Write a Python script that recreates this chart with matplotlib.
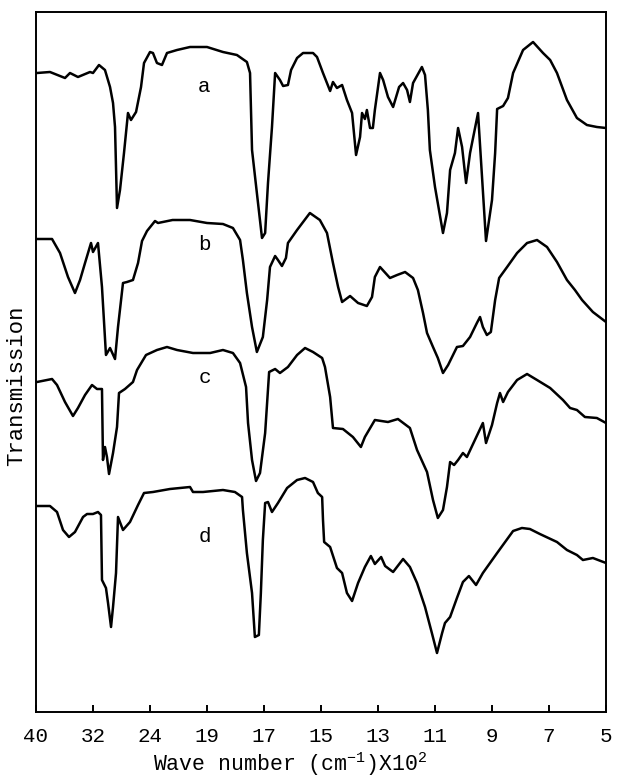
import numpy as np
import matplotlib
matplotlib.use("Agg")
import matplotlib.pyplot as plt

# Wavenumber axis (cm^-1) with a piecewise-linear, evenly spaced tick scale
tick_values = [4000, 3200, 2400, 1900, 1700, 1500, 1300, 1100, 900, 700, 500]
tick_labels = ["40", "32", "24", "19", "17", "15", "13", "11", "9", "7", "5"]

# Spectrum a
a_wn = [3986, 3804, 3593, 3523, 3411, 3242, 3200, 3116, 3032, 2961, 2919, 2891, 2863, 2821,
        2765, 2709, 2667, 2596, 2526, 2484, 2400, 2374, 2339, 2295, 2251, 2163, 2049, 1900,
        1844, 1795, 1760, 1749, 1742, 1725, 1707, 1696, 1686, 1672, 1661, 1644, 1633, 1616,
        1605, 1584, 1563, 1528, 1514, 1493, 1468, 1458, 1444, 1426, 1409, 1391, 1377, 1363,
        1356, 1346, 1339, 1328, 1318, 1311, 1293, 1282, 1265, 1247, 1226, 1212, 1198, 1188,
        1177, 1146, 1135, 1125, 1118, 1100, 1072, 1058, 1047, 1030, 1019, 1005, 991, 977,
        949, 935, 921, 900, 889, 882, 861, 844, 826, 791, 756, 721, 696, 672, 637, 602,
        567, 532, 500]
a_tr = [627, 628, 622, 627, 623, 628, 627, 635, 630, 613, 597, 573, 492, 510,
        547, 587, 580, 588, 613, 637, 648, 647, 637, 635, 647, 650, 653, 653,
        648, 645, 638, 627, 550, 507, 462, 467, 517, 573, 627, 620, 614, 615,
        630, 642, 647, 647, 643, 627, 609, 618, 612, 615, 600, 587, 545, 563,
        587, 581, 590, 572, 572, 590, 627, 620, 603, 593, 613, 617, 610, 598,
        617, 633, 625, 590, 550, 513, 467, 487, 530, 547, 572, 553, 517, 547,
        587, 523, 459, 500, 547, 591, 594, 602, 627, 650, 658, 647, 640, 627, 600, 582,
        575, 573, 572]

# Spectrum b
b_wn = [3986, 3775, 3663, 3551, 3453, 3382, 3312, 3228, 3200, 3130, 3074, 3018, 2961, 2891,
        2849, 2779, 2723, 2639, 2568, 2512, 2442, 2356, 2330, 2202, 2049, 1900, 1844, 1809,
        1784, 1774, 1760, 1742, 1725, 1704, 1689, 1679, 1661, 1651, 1637, 1623, 1616, 1584,
        1539, 1504, 1479, 1458, 1440, 1426, 1398, 1370, 1339, 1321, 1311, 1293, 1258, 1233,
        1205, 1177, 1160, 1142, 1128, 1107, 1090, 1072, 1054, 1023, 1002, 977, 953, 942,
        932, 918, 904, 889, 875, 847, 812, 777, 742, 707, 672, 637, 609, 584, 546, 500]
b_tr = [461, 461, 447, 423, 407, 420, 437, 457, 448, 457, 413, 345, 352, 341,
        373, 417, 418, 420, 437, 459, 469, 479, 477, 480, 480, 477, 476, 472,
        460, 440, 407, 373, 348, 363, 400, 433, 444, 440, 434, 442, 457, 470,
        487, 480, 467, 437, 413, 398, 404, 397, 394, 403, 423, 433, 422, 425,
        428, 422, 410, 387, 367, 353, 342, 327, 335, 353, 354, 363, 377, 383,
        373, 365, 368, 400, 422, 433, 447, 457, 460, 453, 438, 420, 410, 400, 388, 378]

# Spectrum c
c_wn = [3986, 3775, 3705, 3593, 3481, 3411, 3312, 3214, 3144, 3074, 3060, 3032, 3004, 2975,
        2919, 2863, 2835, 2751, 2639, 2582, 2456, 2339, 2251, 2163, 2023, 1889, 1844, 1809,
        1784, 1763, 1756, 1742, 1728, 1714, 1696, 1682, 1661, 1644, 1616, 1584, 1556, 1528,
        1496, 1486, 1468, 1458, 1423, 1388, 1360, 1346, 1311, 1265, 1230, 1188, 1163, 1128,
        1107, 1090, 1072, 1058, 1047, 1033, 1019, 1002, 988, 960, 932, 921, 900, 882,
        872, 861, 844, 812, 777, 742, 696, 651, 626, 602, 574, 532, 500]
c_tr = [318, 321, 315, 298, 284, 292, 305, 315, 311, 311, 240, 253, 243, 226,
        247, 273, 307, 311, 318, 330, 345, 350, 353, 350, 347, 347, 350, 347,
        337, 313, 277, 240, 219, 227, 267, 328, 331, 327, 333, 345, 352, 348,
        342, 333, 303, 272, 271, 263, 253, 263, 280, 278, 281, 272, 250, 228,
        200, 182, 190, 213, 238, 235, 240, 247, 243, 260, 277, 257, 275, 297,
        307, 298, 308, 320, 326, 320, 312, 300, 292, 290, 283, 282, 277]

# Spectrum d
d_wn = [3986, 3804, 3705, 3621, 3537, 3453, 3340, 3284, 3200, 3130, 3088, 3074, 3018, 2989,
        2947, 2919, 2877, 2849, 2779, 2681, 2568, 2484, 2374, 2225, 2049, 2023, 1935, 1844,
        1802, 1777, 1774, 1760, 1742, 1732, 1718, 1711, 1704, 1696, 1686, 1672, 1651, 1619,
        1584, 1556, 1528, 1511, 1496, 1493, 1489, 1468, 1444, 1426, 1409, 1391, 1370, 1346,
        1325, 1311, 1289, 1275, 1247, 1212, 1188, 1163, 1135, 1111, 1093, 1075, 1065, 1047,
        1023, 1002, 981, 956, 932, 882, 826, 795, 767, 732, 672, 637, 602, 581, 546, 500]
d_tr = [194, 194, 188, 170, 163, 168, 183, 186, 186, 188, 185, 120, 112, 97,
        73, 93, 127, 183, 170, 178, 195, 207, 208, 211, 213, 208, 208, 210,
        208, 203, 190, 147, 107, 63, 65, 107, 160, 197, 198, 188, 197, 212,
        220, 222, 218, 207, 203, 180, 158, 153, 132, 127, 107, 99, 117, 133,
        144, 136, 143, 134, 128, 141, 133, 117, 93, 67, 47, 67, 77, 83,
        102, 118, 124, 115, 127, 147, 169, 172, 171, 166, 158, 150, 145, 140, 142, 137]

spectra = [("a", a_wn, a_tr, 1926, 608),
           ("b", b_wn, b_tr, 1926, 450),
           ("c", c_wn, c_tr, 1920, 317),
           ("d", d_wn, d_tr, 1923, 158)]

mono = "Liberation Mono"
plt.rcParams["font.family"] = [mono, "DejaVu Sans Mono"]
plt.rcParams["mathtext.fontset"] = "custom"
plt.rcParams["mathtext.rm"] = mono
plt.rcParams["mathtext.default"] = "regular"

asc = np.array(tick_values[::-1], dtype=float)
pos = np.arange(len(asc), dtype=float)


def forward(w):
    return np.interp(w, asc, pos)


def inverse(p):
    return np.interp(p, pos, asc)


fig = plt.figure(figsize=(6.19, 7.80), dpi=100)
ax = fig.add_axes([36 / 619, 68 / 780, 570 / 619, 700 / 780])
ax.set_xscale("function", functions=(forward, inverse))

for name, wn, tr, lx, ly in spectra:
    ax.plot(wn, tr, color="black", lw=1.8, solid_joinstyle="round",
            solid_capstyle="round")
    ax.text(lx, ly, name, fontsize=15, ha="center", va="baseline", color="black")

ax.set_xlim(4000, 500)
ax.set_ylim(-12, 688)

ax.set_xticks(tick_values)
ax.set_xticklabels(tick_labels)
ax.tick_params(axis="x", direction="in", length=5, width=1.4, pad=11,
               labelsize=15, colors="black")
ax.tick_params(axis="y", left=False, labelleft=False)
for sp in ax.spines.values():
    sp.set_linewidth(1.4)
    sp.set_color("black")

fig.text(290 / 619, 1 - 771 / 780, "Wave number (cm$^{-1}$)X10$^2$",
         ha="center", va="baseline", fontsize=15.5)
fig.text(17 / 619, 1 - 386 / 780, "Transmission", rotation=90,
         ha="center", va="center", fontsize=16)

fig.savefig("out.png", dpi=100, facecolor="white")
